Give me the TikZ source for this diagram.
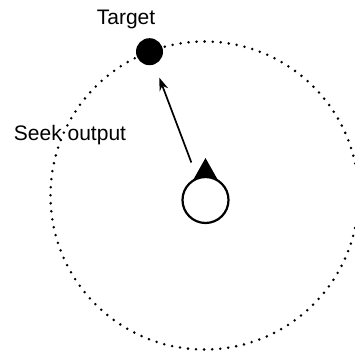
\documentclass[tikz,border=0pt]{standalone}
\usepackage{fontspec}
\setmainfont{Liberation Sans}
\usetikzlibrary{positioning}
\usetikzlibrary{arrows.meta}

\begin{document}
\begin{tikzpicture}[x=1pt,y=-1pt,
  every node/.style={font=\fontsize{21}{25}\selectfont},
  agent/.style={circle,draw,line width=2.2pt,fill=white,minimum size=46pt,inner sep=0pt},
  goal/.style={circle,fill=black,minimum size=27pt,inner sep=0pt},
  seek/.style={line width=2.8pt,line cap=round,dash pattern=on 0pt off 8.06pt}]
\useasboundingbox (0,0) rectangle (355,353);
\coordinate (seek centre) at (204.5,195.5);
\draw[seek] (seek centre) circle[radius=154pt];
\node[goal] (target) at (149.5,51.7) {};
\node[anchor=base] (target label) at (126,25) {Target};
\node[anchor=base] (seek label) at (70,140.7) {Seek output};
\fill (205.5,158) -- (192,182) -- (219,182) -- cycle;
\node[agent] (agent) at (205.5,200) {};
\draw[-{Stealth[length=13pt,width=9pt]},line width=1.7pt,shorten <=16pt,shorten >=14pt] (agent) -- (target);
\end{tikzpicture}
\end{document}
